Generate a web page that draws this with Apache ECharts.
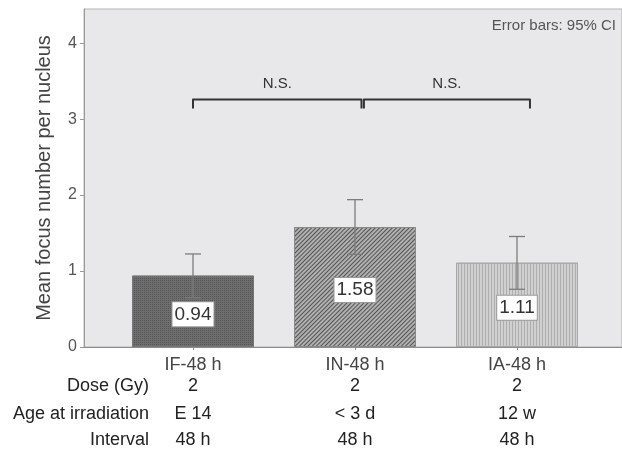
<!DOCTYPE html>
<html>
<head>
<meta charset="utf-8">
<script src="https://cdn.jsdelivr.net/npm/echarts@6/dist/echarts.min.js"></script>
<style>html,body{margin:0;padding:0;background:#fff}#c{width:622px;height:452px}</style>
</head>
<body>
<div id="c"></div>
<script>
const categories = ['IF-48 h', 'IN-48 h', 'IA-48 h'];
const means = [0.94, 1.58, 1.11];
const ciLow = [0.65, 1.22, 0.76];
const ciHigh = [1.225, 1.94, 1.455];
const doses = ['2', '2', '2'];
const ages = ['E 14', '< 3 d', '12 w'];
const intervals = ['48 h', '48 h', '48 h'];
const rowHeaders = ['Dose (Gy)', 'Age at irradiation', 'Interval'];
const yTicks = [0, 1, 2, 3, 4];
const brackets = [[0, 1.04, 'N.S.'], [1.055, 2.08, 'N.S.']];
const bracketLevel = 3.26;
const bracketDrop = 0.12;

const FONT = "'Liberation Sans', Arial, sans-serif";
const YMAX = 4.45;

const barStyles = [
  { color: '#6e6e6e', borderColor: '#777', borderWidth: 1,
    decal: { symbol: 'rect', color: 'rgba(60,60,60,0.5)', dashArrayX: [1, 1], dashArrayY: [1, 1], symbolSize: 1 } },
  { color: '#b0b0b0', borderColor: '#8a8a8a', borderWidth: 1,
    decal: { symbol: 'rect', color: 'rgba(60,60,60,0.8)', dashArrayX: [1, 0], dashArrayY: [1, 2], rotation: -Math.PI / 4, symbolSize: 1 } },
  { color: '#d0d0d0', borderColor: '#a8a8a8', borderWidth: 1,
    decal: { symbol: 'rect', color: 'rgba(160,160,160,0.7)', dashArrayX: [1, 0], dashArrayY: [1, 2], rotation: Math.PI / 2, symbolSize: 1 } }
];

const chart = echarts.init(document.getElementById('c'), null, { renderer: 'canvas' });

const option = {
  animation: false,
  backgroundColor: '#ffffff',
  textStyle: { fontFamily: FONT },
  title: {
    text: 'Error bars: 95% CI', right: 6, top: 18, padding: 0,
    textStyle: { fontSize: 15, fontWeight: 'normal', color: '#555', fontFamily: FONT }
  },
  grid: [
    { left: 84, right: -1, top: 9, bottom: 105, show: true, backgroundColor: '#e8e8ea', borderColor: '#b4b4b4', borderWidth: 1, containLabel: false },
    { left: 112, right: 24, top: 9, bottom: 105, containLabel: false }
  ],
  xAxis: [
    { gridIndex: 0, type: 'value', min: 0, max: 1, axisLine: { show: true, lineStyle: { color: '#8c8c8c', width: 1 } },
      axisTick: { show: false }, axisLabel: { show: false }, splitLine: { show: false } },
    { gridIndex: 1, type: 'category', data: categories, axisLine: { show: false },
      axisTick: { show: true, alignWithLabel: true, length: 3, lineStyle: { color: '#8c8c8c' } },
      axisLabel: {
        margin: 8, interval: 0,
        formatter: function (v, i) {
          return '{c|' + v + '}\n{d|' + doses[i] + '}\n{a|' + ages[i] + '}\n{i|' + intervals[i] + '}';
        },
        rich: {
          c: { fontSize: 18, color: '#444', lineHeight: 20, fontFamily: FONT },
          d: { fontSize: 18, color: '#222', lineHeight: 22, fontFamily: FONT },
          a: { fontSize: 18, color: '#222', lineHeight: 34, fontFamily: FONT },
          i: { fontSize: 18, color: '#222', lineHeight: 18, fontFamily: FONT }
        }
      },
      splitLine: { show: false } },
    { gridIndex: 1, type: 'value', min: -0.5, max: 2.5, show: false }
  ],
  yAxis: [
    { gridIndex: 0, type: 'value', min: 0, max: YMAX,
      axisLine: { show: true, lineStyle: { color: '#9a9a9a', width: 1 } },
      axisTick: { show: true, length: 4, customValues: yTicks, lineStyle: { color: '#9a9a9a' } },
      axisLabel: { fontSize: 16, color: '#555', margin: 7, fontFamily: FONT, customValues: yTicks },
      splitLine: { show: false },
      name: 'Mean focus number per nucleus', nameLocation: 'middle', nameGap: 30,
      nameTextStyle: { fontSize: 20, color: '#444', fontFamily: FONT } },
    { gridIndex: 1, type: 'value', min: 0, max: YMAX, show: false }
  ],
  series: [
    {
      type: 'bar', xAxisIndex: 1, yAxisIndex: 1, barWidth: 122,
      data: means.map((m, i) => ({ value: m, itemStyle: barStyles[i] })),
      label: {
        show: true, position: 'inside', offset: [0, 3],
        formatter: p => p.value.toFixed(2),
        fontSize: 19, color: '#333', fontFamily: FONT,
        backgroundColor: '#ffffff', borderColor: '#999', borderWidth: 1,
        padding: [3, 2, 2, 2]
      },
      z: 2
    },
    {
      type: 'custom', xAxisIndex: 1, yAxisIndex: 1, z: 3,
      data: categories.map((c, i) => [i, ciLow[i], ciHigh[i]]),
      renderItem: function (params, api) {
        const x = api.coord([api.value(0), 0])[0];
        const lo = api.coord([api.value(0), api.value(1)])[1];
        const hi = api.coord([api.value(0), api.value(2)])[1];
        const w = 8;
        const st = { stroke: '#7c7c7c', lineWidth: 1.3 };
        return { type: 'group', children: [
          { type: 'line', shape: { x1: x, y1: lo, x2: x, y2: hi }, style: st },
          { type: 'line', shape: { x1: x - w, y1: hi, x2: x + w, y2: hi }, style: st },
          { type: 'line', shape: { x1: x - w, y1: lo, x2: x + w, y2: lo }, style: st }
        ] };
      }
    },
    {
      type: 'custom', xAxisIndex: 2, yAxisIndex: 1, z: 4,
      data: brackets.map(b => [b[0], b[1], bracketLevel]),
      renderItem: function (params, api) {
        const b = brackets[params.dataIndex];
        const p1 = api.coord([api.value(0), api.value(2)]);
        const p2 = api.coord([api.value(1), api.value(2)]);
        const yb = api.coord([api.value(0), api.value(2) - bracketDrop])[1];
        return { type: 'group', children: [
          { type: 'polyline', shape: { points: [[p1[0], yb], [p1[0], p1[1]], [p2[0], p2[1]], [p2[0], yb]] },
            style: { stroke: '#333', lineWidth: 2, fill: null, lineJoin: 'round' } },
          { type: 'text', style: { text: b[2], x: (p1[0] + p2[0]) / 2, y: p1[1] - 8,
              align: 'center', verticalAlign: 'bottom', fontSize: 15, fill: '#333', fontFamily: FONT } }
        ] };
      }
    }
  ],
  graphic: rowHeaders.map((t, i) => ({
    type: 'text', right: 622 - 149, top: [377, 405, 431][i],
    style: { text: t, fontSize: 18, fill: '#222', fontFamily: FONT, align: 'right' }
  }))
};
chart.setOption(option);
</script>
</body>
</html>
